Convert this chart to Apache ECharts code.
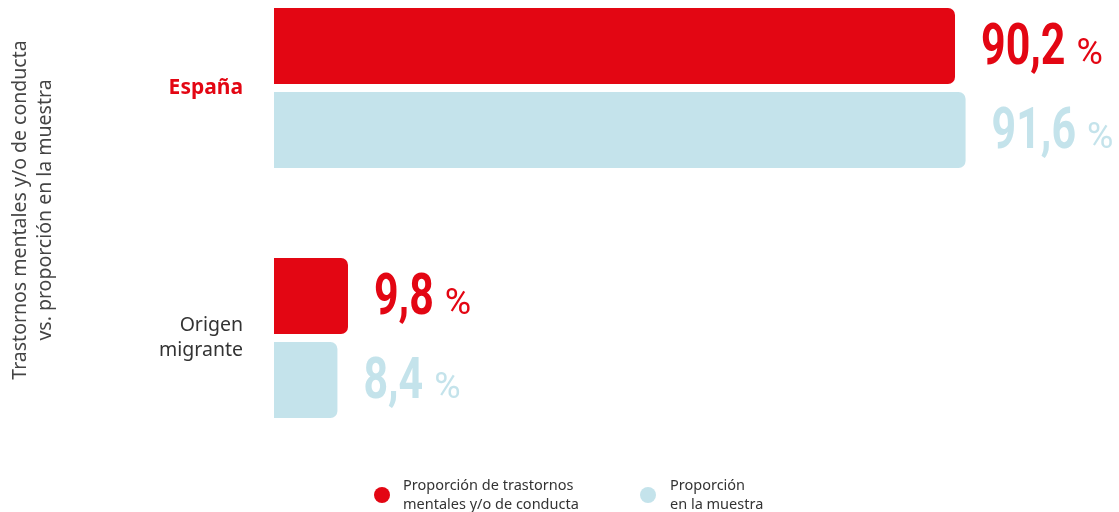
<!DOCTYPE html>
<html><head><meta charset="utf-8">
<script src="https://cdn.jsdelivr.net/npm/echarts@6/dist/echarts.min.js"></script>
<style>html,body{margin:0;padding:0;background:#fff}#c{width:1119px;height:512px}</style>
</head><body><div id="c"></div>
<script>
const categories = ['España', 'Origen migrante'];
const seriesNames = ['Proporción de trastornos\nmentales y/o de conducta', 'Proporción\nen la muestra'];
const trastornos = [90.2, 9.8];
const muestra = [91.6, 8.4];
const axisTitle = 'Trastornos mentales y/o de conducta\nvs. proporción en la muestra';

const RED = '#E30613', BLUE = '#C4E3EB';
const BAR_W = 76, BAR_GAP = 8;
const NUM_FONT = 'bold 58px Roboto', PCT_FONT = '36px Roboto', NUM_SCALE = 0.74;
const mctx = document.createElement('canvas').getContext('2d');
function textW(t, f){ mctx.font = f; return mctx.measureText(t).width; }

const chart = echarts.init(document.getElementById('c'));
function labelSeries(values, color, side){
  return {type:'custom', z:5, silent:true, data: values.map((v,i)=>[v,i]), encode:{x:0,y:1},
    renderItem:(params, api)=>{
      const v = api.value(0), i = api.value(1);
      const p = api.coord([v, i]);
      const y = p[1] + side*(BAR_W+BAR_GAP)/2;
      const x = p[0] + 26;
      const txt = String(v).replace('.', ',');
      const w = textW(txt, NUM_FONT)*NUM_SCALE;
      return {type:'group', children:[
        {type:'text', x:x, y:y+3, scaleX:NUM_SCALE, style:{text:txt, font:NUM_FONT, fill:color, align:'left', verticalAlign:'middle'}},
        {type:'text', x:x+w+11, y:y+9, style:{text:'%', font:PCT_FONT, fill:color, align:'left', verticalAlign:'middle'}}
      ]};
    }};
}
chart.setOption({
  animation:false,
  grid:{left:274, top:88, width:755, height:250},
  xAxis:{type:'value', min:0, max:100, show:false},
  yAxis:{type:'category', data:categories, inverse:true, boundaryGap:false,
    axisLine:{show:false}, axisTick:{show:false}, splitLine:{show:false},
    axisLabel:{margin:31, fontFamily:'Noto Sans', fontSize:19.5, lineHeight:25, color:'#333', align:'right',
      formatter: v => v === 'España' ? '{e|España}' : 'Origen\nmigrante',
      rich:{e:{fontFamily:'Noto Sans', fontSize:21, fontWeight:'bold', color:RED}}}},
  legend:[
    {data:[seriesNames[0]], left:369, top:471, icon:'circle', itemWidth:16, itemHeight:16, itemGap:0,
     textStyle:{fontFamily:'Noto Sans', fontSize:14.5, lineHeight:19, color:'#333', padding:[0,0,0,8]}},
    {data:[seriesNames[1]], left:635, top:471, icon:'circle', itemWidth:16, itemHeight:16, itemGap:0,
     textStyle:{fontFamily:'Noto Sans', fontSize:14.5, lineHeight:19, color:'#333', padding:[0,0,0,9]}}
  ],
  graphic:[{type:'text', x:33, y:210, rotation:Math.PI/2,
    style:{text:axisTitle, align:'center', verticalAlign:'middle', fontFamily:'Noto Sans', fontSize:19.5, lineHeight:25, fill:'#444'}}],
  series:[
    {name:seriesNames[0], type:'bar', data:trastornos, barWidth:BAR_W, barGap:(BAR_GAP/BAR_W*100)+'%',
     itemStyle:{color:RED, borderRadius:[0,7,7,0]}},
    {name:seriesNames[1], type:'bar', data:muestra, barWidth:BAR_W,
     itemStyle:{color:BLUE, borderRadius:[0,7,7,0]}},
    labelSeries(trastornos, RED, -1),
    labelSeries(muestra, BLUE, 1)
  ]
});
</script></body></html>
